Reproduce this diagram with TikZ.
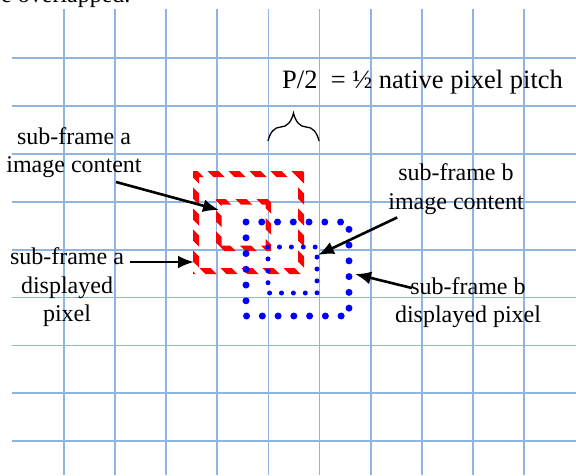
\documentclass[tikz,border=0pt]{standalone}
\usepackage{fontspec}
\setmainfont{Liberation Serif}
\usetikzlibrary{arrows.meta,decorations.pathreplacing}
\definecolor{gridb}{HTML}{8DB4E2}
\definecolor{dotb}{HTML}{0000FF}
\definecolor{stripe}{HTML}{FF0000}
\tikzset{
  gridline/.style={draw=gridb, line width=1.8pt},
  lbl/.style={inner sep=0pt, align=center, font=\fontsize{24}{28.5}\selectfont},
  pointer/.style={-{Latex[length=16pt,width=13pt]}, line width=2.6pt},
  bigdots/.style={dotb, line width=7pt, line cap=round, dash pattern=on 0pt off 15.76pt},
  smalldots/.style={dotb, line width=5pt, line cap=round, dash pattern=on 0pt off 11.9pt}
}

\begin{document}
\begin{tikzpicture}[x=1pt,y=-1pt]
	\useasboundingbox (0,0) rectangle (576,475);
	% pixel grid
	\foreach \k in {0,...,9}
		\draw [gridline] (64+51.1*\k,9) -- (64+51.1*\k,475);
	\foreach \k in {0,...,8}
		\draw [gridline] (12,58+47.9*\k) -- (576,58+47.9*\k);
	\node [anchor=base west, inner sep=0pt, font=\fontsize{24}{28}\selectfont] (cap) at (1,2) {e overlapped.};
	% image content cells
	\fill [white] (217,202) rectangle (268,249);
	\fill [white] (268,249) rectangle (319,297);
	% sub-frame a, striped
	\begin{scope}[even odd rule]
		\clip (193,171) rectangle (304,274) (199,177) rectangle (298,268)
			(216,199) rectangle (271,251) (221.5,204.5) rectangle (265.5,245.5);
		\foreach \i in {-5,...,8}
			\draw [stripe, line width=8pt] (150+\i*21,150) -- ++(150,150);
	\end{scope}
	% sub-frame b, dotted
	\draw [bigdots] (246,222) rectangle (349,316);
	\draw [smalldots] (268,247) rectangle (317,293);
	% P/2
	\draw [decorate, decoration={brace, amplitude=28pt}, line width=1.3pt] (268,141) -- (319,141);
	\node [anchor=west, inner sep=0pt, font=\fontsize{26.5}{30}\selectfont] (pitch) at (282,82) {P/2 \ = ½ native pixel pitch};
	% labels
	\node [lbl] (aimg) at (74,152.5) {sub-frame a\\image content};
	\node [lbl] (apix) at (67,287.5) {sub-frame a\\displayed\\pixel};
	\node [lbl] (bimg) at (456,189) {sub-frame b\\image content};
	\node [lbl] (bpix) at (468,302.5) {sub-frame b\\displayed pixel};
	\coordinate (aimgtip) at (219,210);
	\coordinate (apixtip) at (194,262);
	\coordinate (bimgtip) at (318,255);
	\coordinate (bpixtip) at (355,274);
	\draw [pointer] ([shift={(42,4)}]aimg.south) -- (aimgtip);
	\draw [pointer] ([shift={(6,-25.5)}]apix.east) -- (apixtip);
	\draw [pointer] ([shift={(9,3)}]bimg.south west) -- (bimgtip);
	\draw [pointer] ([shift={(17,-14.5)}]bpix.west) -- (bpixtip);
\end{tikzpicture}
\end{document}
